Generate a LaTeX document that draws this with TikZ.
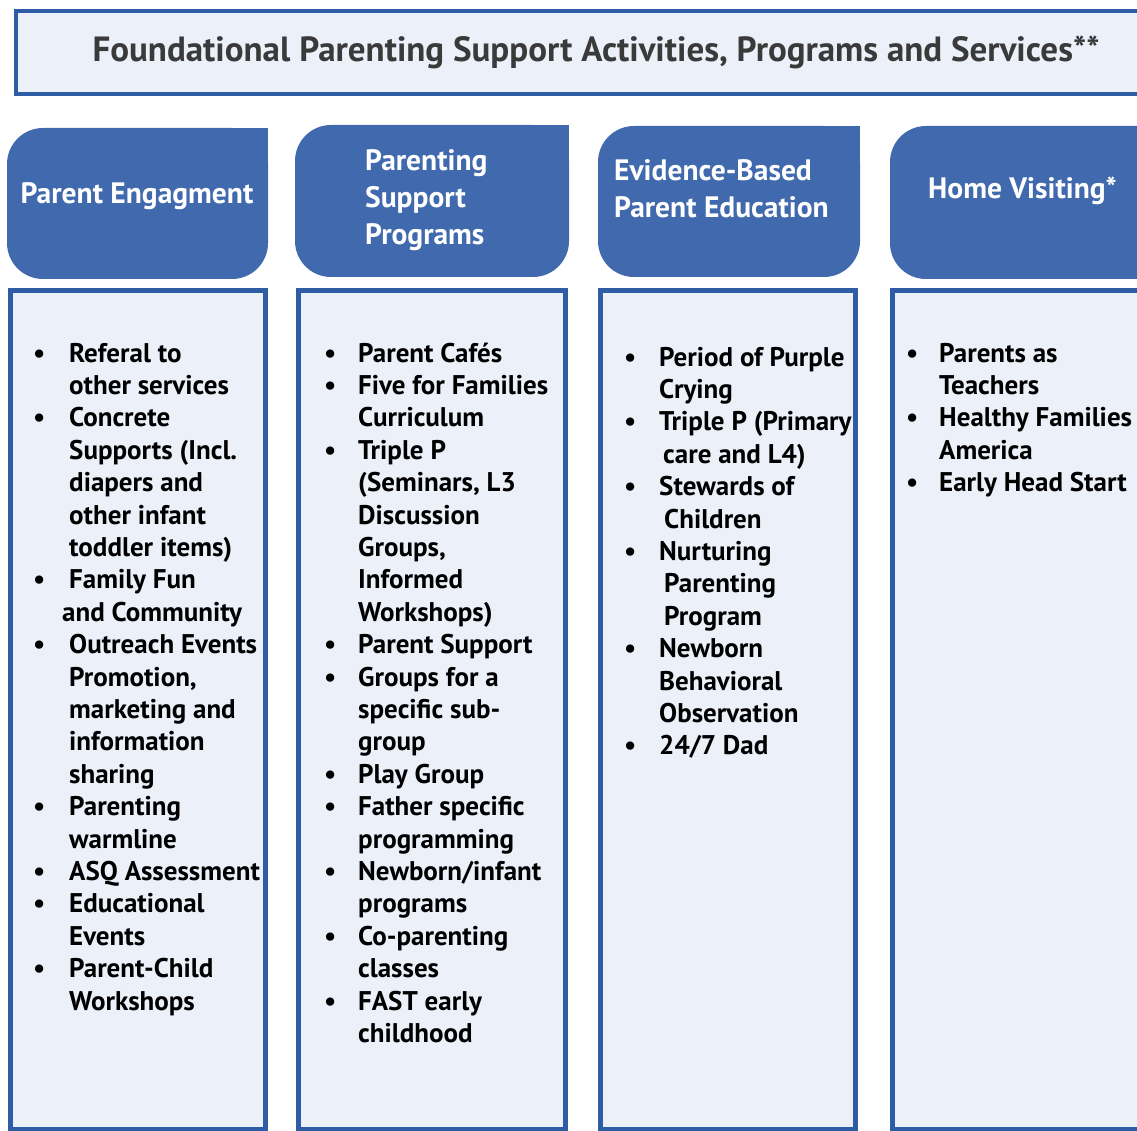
\documentclass[tikz,border=0pt]{standalone}
\usepackage{fontspec}
\setmainfont{PT Sans}
\usepackage{array}
\definecolor{headblue}{RGB}{65,106,174}
\definecolor{lineblue}{RGB}{47,93,165}
\definecolor{paleblue}{RGB}{235,240,249}
\definecolor{titlegray}{RGB}{58,58,58}
\newcommand{\itm}{\textbullet}
% bullet column of the given width, then the text column
\newenvironment{bulletlist}[1]{\fontsize{27}{32.4}\selectfont\begin{tabular}[t]{@{}p{#1}@{}l@{}}}{\end{tabular}}
\begin{document}
\begin{tikzpicture}[x=1pt,y=-1pt,
	headbox/.style={fill=headblue,rounded corners=36pt},
	listbox/.style={draw=lineblue,fill=paleblue,line width=5pt},
	headtext/.style={text=white,font=\fontsize{29.5}{37}\selectfont\bfseries,inner sep=0pt,align=left},
	listtext/.style={inner sep=0pt,anchor=base west,font=\bfseries}]
	\useasboundingbox (0,0) rectangle (1137,1131);
	\clip (0,0) rectangle (1137,1131);
	% banner
	\draw[listbox,line width=4pt] (15.5,11.5) rectangle (1160,94);
	\node[inner sep=0pt,anchor=base,text=titlegray,font=\fontsize{35}{40}\selectfont\bfseries] (title) at (596,62) {Foundational Parenting Support Activities, Programs and Services**};
	% column heads: three corners rounded, top right square
	\foreach \xa/\xb/\ya/\yb in {7/268/128/279, 295/569/125/277, 598/860/126/277, 890/1180/126/279}{
		\fill[headbox] (\xa,\ya) rectangle (\xb,\yb);
		\fill[headblue] ({(\xa+\xb)/2},\ya) rectangle (\xb,{(\ya+\yb)/2});
	}
	% column bodies
	\foreach \xa/\xb in {10.5/265.5, 298/565.5, 600/855.5, 892/1180}
		\draw[listbox] (\xa,290.5) rectangle (\xb,1129);
	% head texts (base = baseline of the last line)
	\node[headtext,anchor=base] (hEngage) at (137,204) {Parent Engagment};
	\node[headtext,anchor=base west] (hSupport) at (365,245) {Parenting\\Support\\Programs};
	\node[headtext,anchor=base west] (hEvidence) at (614,218) {Evidence-Based\\Parent Education};
	\node[headtext,anchor=base west] (hHome) at (928,199) {Home Visiting*};
	% lists
	\node[listtext] (lEngage) at (33,362) {\begin{bulletlist}{36pt}
		\itm & Referal to\\
		& other services\\
		\itm & Concrete\\
		& Supports (Incl.\\
		& diapers and\\
		& other infant\\
		& toddler items)\\
		\itm & Family Fun\\
		& \hspace{-7pt}and Community\\
		\itm & Outreach Events\\
		& Promotion,\\
		& marketing and\\
		& information\\
		& sharing\\
		\itm & Parenting\\
		& warmline\\
		\itm & ASQ Assessment\\
		\itm & Educational\\
		& Events\\
		\itm & Parent-Child\\
		& Workshops
	\end{bulletlist}};
	\node[listtext] (lSupport) at (324,362) {\begin{bulletlist}{34pt}
		\itm & Parent Cafés\\
		\itm & Five for Families\\
		& Curriculum\\
		\itm & Triple P\\
		& (Seminars, L3\\
		& Discussion\\
		& Groups,\\
		& Informed\\
		& Workshops)\\
		\itm & Parent Support\\
		\itm & Groups for a\\
		& specific sub-\\
		& group\\
		\itm & Play Group\\
		\itm & Father specific\\
		& programming\\
		\itm & Newborn/infant\\
		& programs\\
		\itm & Co-parenting\\
		& classes\\
		\itm & FAST early\\
		& childhood
	\end{bulletlist}};
	\node[listtext] (lEvidence) at (624,366) {\begin{bulletlist}{35pt}
		\itm & Period of Purple\\
		& Crying\\
		\itm & Triple P (Primary\\
		& \hspace{4pt}care and L4)\\
		\itm & Stewards of\\
		& \hspace{5pt}Children\\
		\itm & Nurturing\\
		& \hspace{5pt}Parenting\\
		& \hspace{5pt}Program\\
		\itm & Newborn\\
		& Behavioral\\
		& Observation\\
		\itm & 24/7 Dad
	\end{bulletlist}};
	\node[listtext] (lHome) at (906,362) {\begin{bulletlist}{33pt}
		\itm & Parents as\\
		& Teachers\\
		\itm & Healthy Families\\
		& America\\
		\itm & Early Head Start
	\end{bulletlist}};
\end{tikzpicture}
\end{document}
